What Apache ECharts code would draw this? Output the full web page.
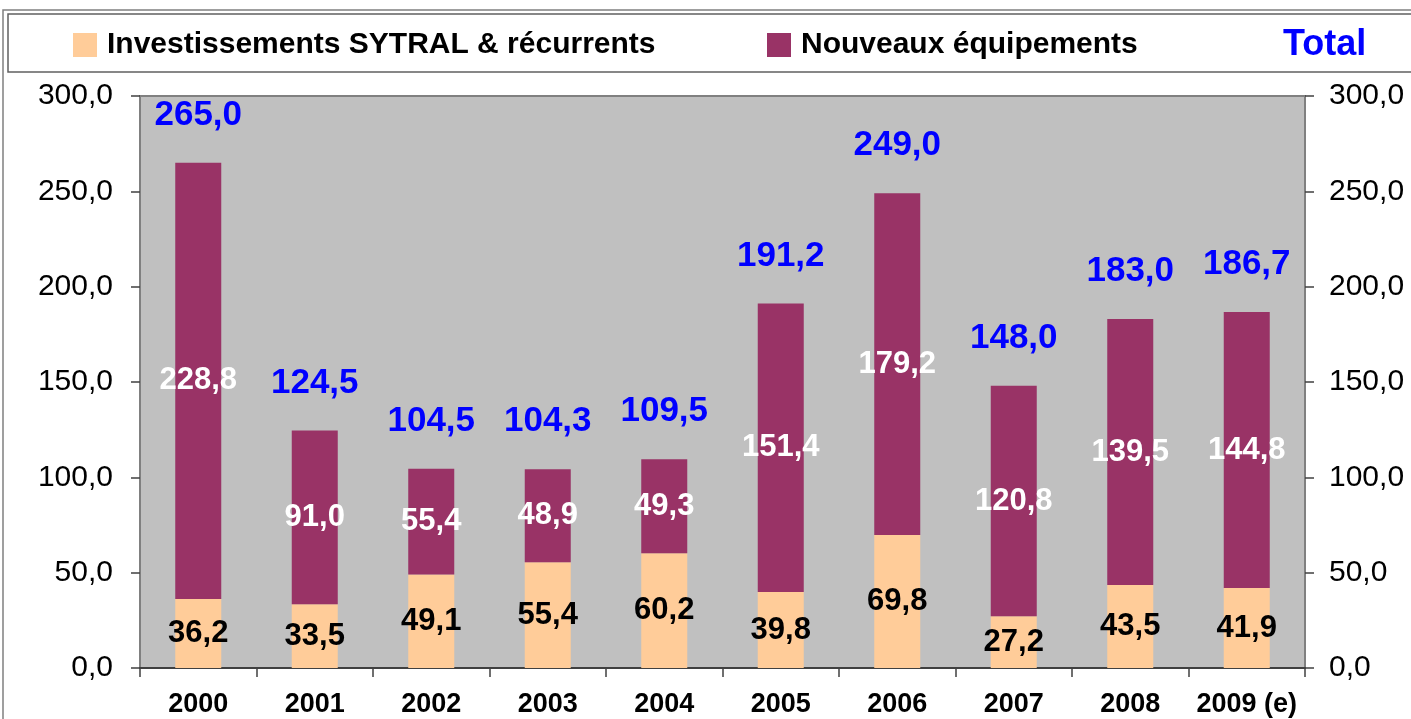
<!DOCTYPE html>
<html>
<head>
<meta charset="utf-8">
<title>Investissements SYTRAL</title>
<script src="https://cdn.jsdelivr.net/npm/echarts@6/dist/echarts.min.js"></script>
<style>
  html, body { margin: 0; padding: 0; background: #fff; }
  #chart { width: 1411px; height: 719px; }
</style>
</head>
<body>
<div id="chart"></div>
<script>
// données (M€)
var years = ['2000', '2001', '2002', '2003', '2004', '2005', '2006', '2007', '2008', '2009 (e)'];
var recurrents = [36.2, 33.5, 49.1, 55.4, 60.2, 39.8, 69.8, 27.2, 43.5, 41.9];
var nouveaux = [228.8, 91.0, 55.4, 48.9, 49.3, 151.4, 179.2, 120.8, 139.5, 144.8];
var totals = [265.0, 124.5, 104.5, 104.3, 109.5, 191.2, 249.0, 148.0, 183.0, 186.7];
var yTicks = [0, 50, 100, 150, 200, 250, 300];

var FONT = '"Liberation Sans", Arial, sans-serif';
var fr = function (v) { return Number(v).toFixed(1).replace('.', ','); };

var yAxisBase = function (pos) {
  return {
    type: 'value',
    position: pos,
    min: yTicks[0],
    max: yTicks[yTicks.length - 1],
    interval: yTicks[1] - yTicks[0],
    splitLine: { show: false },
    axisLine: { show: true, lineStyle: { color: '#808080', width: 2 } },
    axisTick: { show: true, length: 9, lineStyle: { color: '#404040', width: 1.5 } },
    axisLabel: {
      formatter: fr,
      color: '#000',
      fontFamily: FONT,
      fontSize: 30,
      margin: pos === 'left' ? 27 : 24
    }
  };
};

var chart = echarts.init(document.getElementById('chart'));
chart.setOption({
  backgroundColor: '#fff',
  animation: false,
  graphic: [
    // cadre extérieur
    { type: 'rect', shape: { x: 3, y: 10, width: 1440, height: 760 },
      style: { fill: 'none', stroke: '#808080', lineWidth: 1.5 }, z: -1 },
    // cadre de la légende
    { type: 'rect', shape: { x: 8, y: 14, width: 1430, height: 58 },
      style: { fill: '#fff', stroke: '#606060', lineWidth: 1.5 }, z: -1 }
  ],
  legend: [
    {
      data: ['Investissements SYTRAL & récurrents'],
      left: 68, top: 25,
      icon: 'rect', itemWidth: 24, itemHeight: 24,
      textStyle: { fontFamily: FONT, fontWeight: 'bold', fontSize: 30, color: '#000', padding: [0, 0, 0, 5] }
    },
    {
      data: ['Nouveaux équipements'],
      left: 762, top: 25,
      icon: 'rect', itemWidth: 24, itemHeight: 24,
      textStyle: { fontFamily: FONT, fontWeight: 'bold', fontSize: 30, color: '#000', padding: [0, 0, 0, 5] }
    },
    {
      data: [{ name: 'Total', icon: 'none' }],
      left: 1273, top: 22,
      itemWidth: 0, itemHeight: 24,
      textStyle: { fontFamily: FONT, fontWeight: 'bold', fontSize: 36, color: '#0000ff' }
    }
  ],
  grid: {
    left: 140, right: 106, top: 96, bottom: 51,
    show: true,
    backgroundColor: '#c0c0c0',
    borderColor: '#808080',
    borderWidth: 2
  },
  xAxis: {
    type: 'category',
    data: years,
    axisLine: { show: true, lineStyle: { color: '#404040', width: 2 } },
    axisTick: { show: true, length: 9, interval: 0, lineStyle: { color: '#404040', width: 1.5 } },
    axisLabel: {
      interval: 0,
      color: '#000',
      fontFamily: FONT,
      fontWeight: 'bold',
      fontSize: 27,
      margin: 23
    }
  },
  yAxis: [yAxisBase('left'), yAxisBase('right')],
  series: [
    {
      name: 'Investissements SYTRAL & récurrents',
      type: 'bar',
      stack: 'inv',
      barWidth: 46,
      barGap: '-100%',
      itemStyle: { color: '#ffcc99' },
      label: {
        show: true, position: 'inside', formatter: function (p) { return fr(p.value); },
        color: '#000', fontFamily: FONT, fontWeight: 'bold', fontSize: 31
      },
      data: recurrents
    },
    {
      name: 'Nouveaux équipements',
      type: 'bar',
      stack: 'inv',
      barWidth: 46,
      barGap: '-100%',
      itemStyle: { color: '#993366' },
      label: {
        show: true, position: 'inside', formatter: function (p) { return fr(p.value); },
        color: '#fff', fontFamily: FONT, fontWeight: 'bold', fontSize: 31
      },
      data: nouveaux
    },
    {
      name: 'Total',
      type: 'bar',
      barWidth: 46,
      barGap: '-100%',
      z: 1,
      itemStyle: { color: 'rgba(0,0,0,0)' },
      label: {
        show: true, position: 'top', distance: 30, formatter: function (p) { return fr(p.value); },
        color: '#0000ff', fontFamily: FONT, fontWeight: 'bold', fontSize: 35
      },
      data: totals
    }
  ]
});
</script>
</body>
</html>
